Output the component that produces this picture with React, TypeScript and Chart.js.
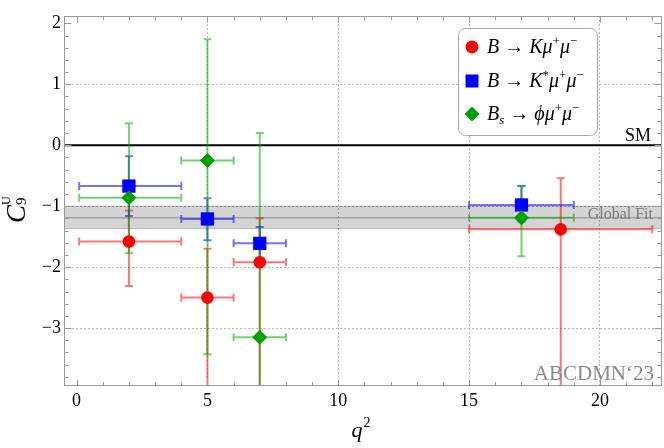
import React, { useEffect, useRef } from 'react';
import { Chart, registerables } from 'chart.js';

Chart.register(...registerables);

// ---- data ----
const kX = [2, 5, 7, 18.5];
const kY = [-1.58, -2.5, -1.92, -1.38];
const kXLo = [0.1, 4, 6, 15];
const kXHi = [4, 6, 8, 22];
const kYLo = [-2.31, -4.6, -4.6, -4.6];
const kYHi = [-1.07, -1.7, -1.2, -0.54];

const ksX = [2, 5, 7, 17];
const ksY = [-0.67, -1.21, -1.61, -0.98];
const ksXLo = [0.1, 4, 6, 15];
const ksXHi = [4, 6, 8, 19];
const ksYLo = [-1.16, -1.56, -1.9, -1.25];
const ksYHi = [-0.18, -0.87, -1.34, -0.67];

const phiX = [2, 5, 7, 17];
const phiY = [-0.86, -0.25, -3.15, -1.19];
const phiXLo = [0.1, 4, 6, 15];
const phiXHi = [4, 6, 8, 19];
const phiYLo = [-1.77, -3.43, -4.6, -1.82];
const phiYHi = [0.36, 1.74, 0.2, -0.67];

const smValue = 0;
const globalFit = -1.19;
const globalFitLo = -1.37;
const globalFitHi = -1.0;

const xMin = -0.48;
const xMax = 22.37;
const yMin = -3.95;
const yMax = 2.12;
const xStep = 5;
const yStep = 1;
const xMinorStep = 1;
const yMinorStep = 0.2;

const watermark = 'ABCDMN\u201823';
const smLabel = 'SM';
const fitLabel = 'Global Fit';

const RED = '#ff0000';
const BLUE = '#0000ff';
const GREEN = '#00a000';
const RED_E = 'rgba(255,0,0,0.55)';
const BLUE_E = 'rgba(0,0,255,0.55)';
const GREEN_E = 'rgba(0,170,0,0.55)';

const SERIF = '"Liberation Serif", "DejaVu Serif", serif';

type Seg = { t: string; size: number; italic?: boolean; dy?: number; dx?: number; noAdvance?: boolean };

function drawRich(ctx: CanvasRenderingContext2D, segs: Seg[], x: number, y: number) {
  let cx = x;
  for (const s of segs) {
    ctx.font = `${s.italic ? 'italic ' : ''}${s.size}px ${SERIF}`;
    ctx.fillText(s.t, cx + (s.dx || 0), y + (s.dy || 0));
    if (!s.noAdvance) cx += ctx.measureText(s.t).width + (s.dx || 0);
  }
  return cx - x;
}
function richWidth(ctx: CanvasRenderingContext2D, segs: Seg[]) {
  let w = 0;
  for (const s of segs) {
    ctx.font = `${s.italic ? 'italic ' : ''}${s.size}px ${SERIF}`;
    if (!s.noAdvance) w += ctx.measureText(s.t).width + (s.dx || 0);
  }
  return w;
}

const fmt = (v: any) => {
  const n = Number(v);
  return n < 0 ? '\u2212' + Math.abs(n) : String(n);
};

const decorPlugin = {
  id: 'decor',
  beforeDatasetsDraw(chart: any) {
    const { ctx, chartArea: a, scales } = chart;
    const xs = scales.x, ys = scales.y;
    ctx.save();
    ctx.beginPath();
    ctx.rect(a.left, a.top, a.right - a.left, a.bottom - a.top);
    ctx.clip();
    // global fit band
    const yHi = ys.getPixelForValue(globalFitHi);
    const yLo = ys.getPixelForValue(globalFitLo);
    ctx.fillStyle = 'rgba(0,0,0,0.17)';
    ctx.fillRect(a.left, yHi, a.right - a.left, yLo - yHi);
    ctx.strokeStyle = 'rgba(0,0,0,0.2)';
    ctx.lineWidth = 1;
    ctx.beginPath();
    ctx.moveTo(a.left, yHi); ctx.lineTo(a.right, yHi);
    ctx.moveTo(a.left, yLo); ctx.lineTo(a.right, yLo);
    ctx.stroke();
    const yc = ys.getPixelForValue(globalFit);
    ctx.strokeStyle = 'rgba(120,120,120,0.55)';
    ctx.lineWidth = 1.5;
    ctx.beginPath(); ctx.moveTo(a.left, yc); ctx.lineTo(a.right, yc); ctx.stroke();
    ctx.fillStyle = '#7a7a7a';
    ctx.font = `16px ${SERIF}`;
    ctx.textAlign = 'right';
    ctx.textBaseline = 'alphabetic';
    ctx.fillText(fitLabel, a.right - 9, yc + 1.5);
    // SM line
    const y0 = ys.getPixelForValue(smValue);
    ctx.strokeStyle = '#000';
    ctx.lineWidth = 2;
    ctx.beginPath(); ctx.moveTo(a.left, y0); ctx.lineTo(a.right, y0); ctx.stroke();
    ctx.fillStyle = '#000';
    ctx.font = `18px ${SERIF}`;
    ctx.fillText(smLabel, a.right - 11, y0 - 4);
    // error bars
    const bars = (X: number[], Y: number[], XL: number[], XH: number[], YL: number[], YH: number[], col: string) => {
      ctx.strokeStyle = col;
      ctx.lineWidth = 2;
      const cap = 4;
      for (let i = 0; i < X.length; i++) {
        const px = xs.getPixelForValue(X[i]);
        const py = ys.getPixelForValue(Y[i]);
        const pxl = xs.getPixelForValue(XL[i]);
        const pxh = xs.getPixelForValue(XH[i]);
        const pyl = ys.getPixelForValue(YL[i]);
        const pyh = ys.getPixelForValue(YH[i]);
        ctx.beginPath();
        ctx.moveTo(pxl, py); ctx.lineTo(pxh, py);
        ctx.moveTo(pxl, py - cap); ctx.lineTo(pxl, py + cap);
        ctx.moveTo(pxh, py - cap); ctx.lineTo(pxh, py + cap);
        ctx.stroke();
        ctx.beginPath();
        ctx.moveTo(px, pyl); ctx.lineTo(px, pyh);
        ctx.moveTo(px - cap, pyl); ctx.lineTo(px + cap, pyl);
        ctx.moveTo(px - cap, pyh); ctx.lineTo(px + cap, pyh);
        ctx.stroke();
      }
    };
    bars(kX, kY, kXLo, kXHi, kYLo, kYHi, RED_E);
    bars(ksX, ksY, ksXLo, ksXHi, ksYLo, ksYHi, BLUE_E);
    bars(phiX, phiY, phiXLo, phiXHi, phiYLo, phiYHi, GREEN_E);
    ctx.restore();
  },
  afterDatasetsDraw(chart: any) {
    const { ctx, chartArea: a, scales } = chart;
    const xs = scales.x, ys = scales.y;
    ctx.save();
    // watermark
    ctx.fillStyle = '#8a8a8a';
    ctx.font = `21px ${SERIF}`;
    ctx.textAlign = 'right';
    ctx.textBaseline = 'alphabetic';
    ctx.fillText(watermark, a.right - 8, 380);

    // legend box
    const lx = 458.5, ly = 28.5, lw = 139, lh = 107, r = 7;
    ctx.beginPath();
    ctx.moveTo(lx + r, ly);
    ctx.lineTo(lx + lw - r, ly);
    ctx.arcTo(lx + lw, ly, lx + lw, ly + r, r);
    ctx.lineTo(lx + lw, ly + lh - r);
    ctx.arcTo(lx + lw, ly + lh, lx + lw - r, ly + lh, r);
    ctx.lineTo(lx + r, ly + lh);
    ctx.arcTo(lx, ly + lh, lx, ly + lh - r, r);
    ctx.lineTo(lx, ly + r);
    ctx.arcTo(lx, ly, lx + r, ly, r);
    ctx.closePath();
    ctx.fillStyle = '#fff';
    ctx.fill();
    ctx.strokeStyle = '#aaaaaa';
    ctx.lineWidth = 1;
    ctx.stroke();

    const mx = 472;
    const rowsY = [47, 81, 114];
    // markers
    ctx.fillStyle = RED;
    ctx.beginPath(); ctx.arc(mx, rowsY[0], 6.5, 0, Math.PI * 2); ctx.fill();
    ctx.fillStyle = BLUE;
    ctx.fillRect(mx - 6.5, rowsY[1] - 6.5, 13, 13);
    ctx.fillStyle = GREEN;
    ctx.beginPath();
    ctx.moveTo(mx - 7.5, rowsY[2]); ctx.lineTo(mx, rowsY[2] - 7.5);
    ctx.lineTo(mx + 7.5, rowsY[2]); ctx.lineTo(mx, rowsY[2] + 7.5);
    ctx.closePath(); ctx.fill();

    ctx.fillStyle = '#000';
    ctx.textAlign = 'left';
    const S = 20, s = 13, up = -8;
    const tail: Seg[] = [
      { t: '\u03bc', size: S, italic: true },
      { t: '+', size: s, dy: up },
      { t: '\u03bc', size: S, italic: true },
      { t: '\u2212', size: s, dy: up },
    ];
    const arrow: Seg = { t: ' \u2192 ', size: S };
    const tx = 487;
    drawRich(ctx, [
      { t: 'B', size: S, italic: true },
      arrow,
      { t: 'K', size: S, italic: true },
      ...tail,
    ], tx, rowsY[0] + 6);
    drawRich(ctx, [
      { t: 'B', size: S, italic: true },
      arrow,
      { t: 'K', size: S, italic: true },
      { t: '*', size: s, dy: up },
      ...tail,
    ], tx, rowsY[1] + 6);
    drawRich(ctx, [
      { t: 'B', size: S, italic: true },
      { t: 's', size: s, italic: true, dy: 4 },
      arrow,
      { t: '\u03d5', size: S, italic: true },
      ...tail,
    ], tx, rowsY[2] + 6);

    // frame
    ctx.strokeStyle = '#9a9a9a';
    ctx.lineWidth = 1;
    const L = Math.round(a.left) + 0.5, R = Math.round(a.right) - 0.5;
    const T = Math.round(a.top) + 0.5, B = Math.round(a.bottom) - 0.5;
    ctx.strokeRect(L, T, R - L, B - T);
    ctx.beginPath();
    for (let v = Math.ceil(xMin); v <= xMax + 1e-9; v += xMinorStep) {
      const p = Math.round(xs.getPixelForValue(v)) + 0.5;
      const major = Math.abs(v / xStep - Math.round(v / xStep)) < 1e-6;
      const len = major ? 6 : 3.5;
      ctx.moveTo(p, B); ctx.lineTo(p, B - len);
      ctx.moveTo(p, T); ctx.lineTo(p, T + len);
    }
    const n0 = Math.ceil(yMin / yMinorStep - 1e-9);
    const n1 = Math.floor(yMax / yMinorStep + 1e-9);
    for (let n = n0; n <= n1; n++) {
      const v = n * yMinorStep;
      const p = Math.round(ys.getPixelForValue(v)) + 0.5;
      const major = Math.abs(v / yStep - Math.round(v / yStep)) < 1e-6;
      const len = major ? 7 : 4;
      ctx.moveTo(L, p); ctx.lineTo(L + len, p);
      ctx.moveTo(R, p); ctx.lineTo(R - len, p);
    }
    ctx.stroke();

    // axis titles
    ctx.fillStyle = '#000';
    ctx.textAlign = 'left';
    ctx.textBaseline = 'alphabetic';
    const xt: Seg[] = [
      { t: 'q', size: 22, italic: true },
      { t: '2', size: 14, dy: -10, dx: 1 },
    ];
    const w = richWidth(ctx, xt);
    drawRich(ctx, xt, (a.left + a.right) / 2 - w / 2 - 2, 437);

    ctx.save();
    ctx.translate(25, 223);
    ctx.rotate(-Math.PI / 2);
    drawRich(ctx, [
      { t: 'C', size: 27, italic: true },
      { t: 'U', size: 12, dy: -15, dx: 0, noAdvance: true },
      { t: '9', size: 15, dy: 1 },
    ], 0, 0);
    ctx.restore();

    ctx.restore();
  },
};

export default function App() {
  const ref = useRef<HTMLCanvasElement | null>(null);
  useEffect(() => {
    document.body.style.margin = '0';
    const canvas = ref.current;
    if (!canvas) return;
    const tickFont = { family: SERIF, size: 18 };
    const chart = new Chart(canvas, {
      type: 'scatter',
      data: {
        datasets: [
          {
            label: 'B \u2192 K\u03bc\u207a\u03bc\u207b',
            data: kX.map((x, i) => ({ x, y: kY[i] })),
            pointStyle: 'circle',
            pointRadius: 6.3,
            pointBorderWidth: 0,
            backgroundColor: RED,
            borderColor: RED,
            order: 3,
          },
          {
            label: 'B \u2192 K*\u03bc\u207a\u03bc\u207b',
            data: ksX.map((x, i) => ({ x, y: ksY[i] })),
            pointStyle: 'rect',
            pointRadius: 9.4,
            pointBorderWidth: 0,
            backgroundColor: BLUE,
            borderColor: BLUE,
            order: 2,
          },
          {
            label: 'Bs \u2192 \u03d5\u03bc\u207a\u03bc\u207b',
            data: phiX.map((x, i) => ({ x, y: phiY[i] })),
            pointStyle: 'rectRot',
            pointRadius: 7.5,
            pointBorderWidth: 0,
            backgroundColor: GREEN,
            borderColor: GREEN,
            order: 1,
          },
        ] as any,
      },
      options: {
        animation: false,
        responsive: false,
        devicePixelRatio: 1,
        layout: { autoPadding: false, padding: { top: 16, right: 2, left: 0, bottom: 0 } },
        plugins: { legend: { display: false }, tooltip: { enabled: false } },
        scales: {
          x: {
            type: 'linear',
            min: xMin,
            max: xMax,
            afterFit: (s: any) => { s.height = 62; s.paddingLeft = 0; s.paddingRight = 0; },
            grid: {
              color: (c: any) => (c.tick && Math.abs(c.tick.value) < 1e-9 ? 'rgba(0,0,0,0)' : '#b8b8b8'),
              lineWidth: 1,
              drawTicks: false,
            },
            border: { display: false, dash: [2, 2] },
            ticks: {
              stepSize: xStep,
              includeBounds: false,
              autoSkip: false,
              maxRotation: 0,
              padding: 4,
              color: '#000',
              font: tickFont,
              callback: fmt,
            },
          },
          y: {
            type: 'linear',
            min: yMin,
            max: yMax,
            afterFit: (s: any) => { s.width = 64; s.paddingTop = 0; s.paddingBottom = 0; },
            grid: {
              color: (c: any) => (c.tick && (Math.abs(c.tick.value) < 1e-9 || Math.abs(c.tick.value - 2) < 1e-9) ? 'rgba(0,0,0,0)' : '#b8b8b8'),
              lineWidth: 1,
              drawTicks: false,
            },
            border: { display: false, dash: [2, 2] },
            ticks: {
              stepSize: yStep,
              includeBounds: false,
              autoSkip: false,
              padding: 3,
              color: '#000',
              font: tickFont,
              callback: fmt,
            },
          },
        },
      } as any,
      plugins: [decorPlugin],
    });
    return () => chart.destroy();
  }, []);
  return (
    <div style={{ width: 664, height: 448 }}>
      <canvas ref={ref} width={664} height={448} />
    </div>
  );
}
